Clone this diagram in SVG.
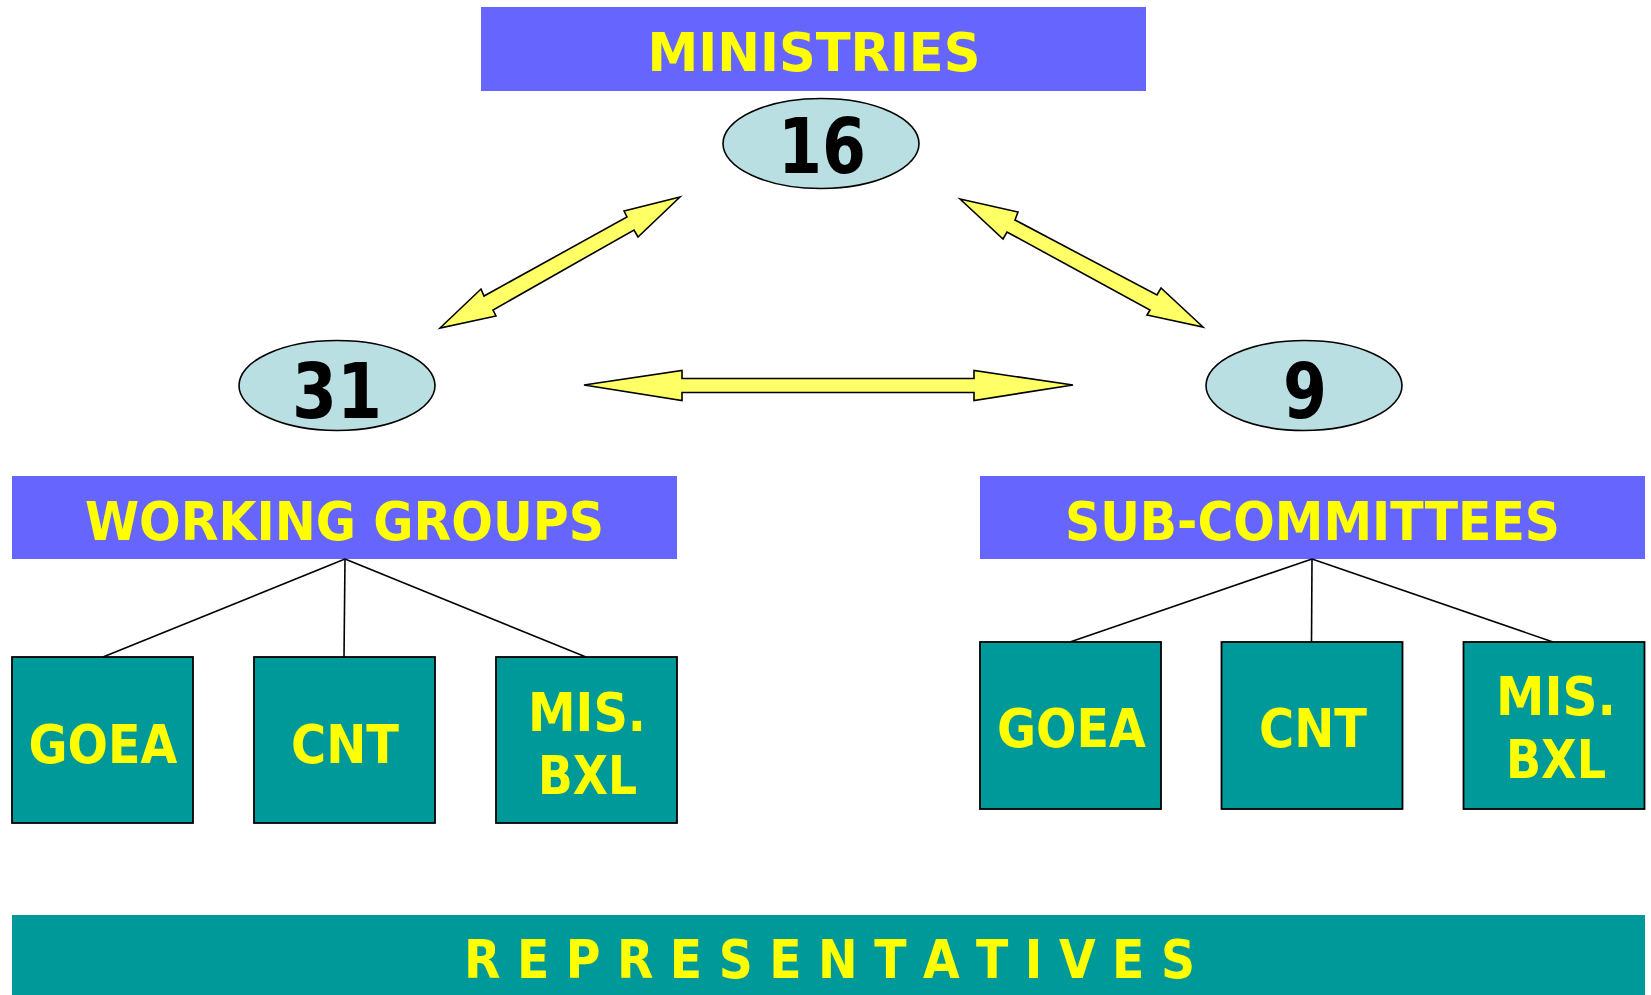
<svg xmlns="http://www.w3.org/2000/svg" width="1651" height="995" viewBox="0 0 1651 995">
<style>
.hdr{fill:#6666FF}
.box{fill:#009999;stroke:#000;stroke-width:1.8}
.ell{fill:#BADFE3;stroke:#000;stroke-width:1.6}
.arr{fill:#FFFF66;stroke:#000;stroke-width:1.6;stroke-linejoin:miter}
.ln{stroke:#000;stroke-width:1.6;fill:none}
.t{font-family:"DejaVu Sans","Liberation Sans",sans-serif;font-weight:bold;fill:#FFFF00;text-anchor:middle;font-size:54px}
.n{font-family:"DejaVu Sans","Liberation Sans",sans-serif;font-weight:bold;fill:#000;text-anchor:middle;font-size:76px}
</style>
<rect width="1651" height="995" fill="#fff"/>
<g id="ministries">
<rect class="hdr" x="481" y="7" width="665" height="84"/>
<text class="t" x="814" y="71" textLength="333" lengthAdjust="spacingAndGlyphs">MINISTRIES</text>
</g>
<g id="n16">
<ellipse class="ell" cx="821" cy="143.5" rx="98" ry="45"/>
<text class="n" x="822" y="173" textLength="88" lengthAdjust="spacingAndGlyphs">16</text>
</g>
<g id="n31">
<ellipse class="ell" cx="337" cy="385.5" rx="98" ry="45"/>
<text class="n" x="337" y="418" textLength="90" lengthAdjust="spacingAndGlyphs">31</text>
</g>
<g id="n9">
<ellipse class="ell" cx="1304" cy="385.5" rx="98" ry="45"/>
<text class="n" x="1305" y="418" textLength="44" lengthAdjust="spacingAndGlyphs">9</text>
</g>
<g id="arrows">
<polygon class="arr" points="680,197 638,237 634,230 493,310 496,316 440,328 481,289 484,296 627,217 624,211"/>
<polygon class="arr" points="960,199 1018,212 1015,220 1157,295 1161,288 1203,327 1147,315 1150,310 1007,232 1003,239"/>
<polygon class="arr" points="584,385 682,370.5 682,378.5 974,378.5 974,370.5 1073,385 974,400.5 974,392.5 682,392.5 682,400.5"/>
</g>
<g id="working-groups">
<rect class="hdr" x="12" y="476" width="665" height="83"/>
<text class="t" x="344.5" y="540" textLength="519" lengthAdjust="spacingAndGlyphs">WORKING GROUPS</text>
</g>
<g id="sub-committees">
<rect class="hdr" x="980" y="476" width="665" height="83"/>
<text class="t" x="1312.5" y="540" textLength="495" lengthAdjust="spacingAndGlyphs">SUB-COMMITTEES</text>
</g>
<g id="connectors">
<line class="ln" x1="345" y1="559" x2="103" y2="657"/>
<line class="ln" x1="345" y1="559" x2="344" y2="657"/>
<line class="ln" x1="345" y1="559" x2="586" y2="657"/>
<line class="ln" x1="1312" y1="559" x2="1070" y2="642"/>
<line class="ln" x1="1312" y1="559" x2="1311.5" y2="642"/>
<line class="ln" x1="1312" y1="559" x2="1553" y2="642"/>
</g>
<g id="wg-goea">
<rect class="box" x="12" y="657" width="181" height="166"/>
<text class="t" x="103" y="763" textLength="149" lengthAdjust="spacingAndGlyphs">GOEA</text>
</g>
<g id="wg-cnt">
<rect class="box" x="254" y="657" width="181" height="166"/>
<text class="t" x="345" y="763" textLength="108" lengthAdjust="spacingAndGlyphs">CNT</text>
</g>
<g id="wg-mis">
<rect class="box" x="496" y="657" width="181" height="166"/>
<text class="t" x="587" y="731" textLength="118" lengthAdjust="spacingAndGlyphs">MIS.</text>
<text class="t" x="587.5" y="794" textLength="99" lengthAdjust="spacingAndGlyphs">BXL</text>
</g>
<g id="sc-goea">
<rect class="box" x="980" y="642" width="181" height="167"/>
<text class="t" x="1071.5" y="747" textLength="149" lengthAdjust="spacingAndGlyphs">GOEA</text>
</g>
<g id="sc-cnt">
<rect class="box" x="1221.5" y="642" width="181" height="167"/>
<text class="t" x="1313" y="747" textLength="108" lengthAdjust="spacingAndGlyphs">CNT</text>
</g>
<g id="sc-mis">
<rect class="box" x="1463.5" y="642" width="181" height="167"/>
<text class="t" x="1556" y="715" textLength="120" lengthAdjust="spacingAndGlyphs">MIS.</text>
<text class="t" x="1556" y="778" textLength="100" lengthAdjust="spacingAndGlyphs">BXL</text>
</g>
<g id="representatives">
<rect x="12" y="915" width="1633" height="80" fill="#009999"/>
<text class="t" x="829.5" y="978" font-size="53" textLength="731" lengthAdjust="spacingAndGlyphs">R E P R E S E N T A T I V E S</text>
</g>
</svg>
